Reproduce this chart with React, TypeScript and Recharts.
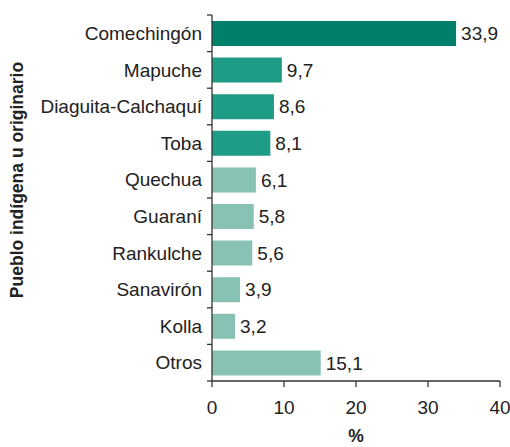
import { Bar, BarChart, Cell, LabelList, XAxis, YAxis } from "recharts";

const pueblos = [
  "Comechingón",
  "Mapuche",
  "Diaguita-Calchaquí",
  "Toba",
  "Quechua",
  "Guaraní",
  "Rankulche",
  "Sanavirón",
  "Kolla",
  "Otros",
];
const porcentajes = [33.9, 9.7, 8.6, 8.1, 6.1, 5.8, 5.6, 3.9, 3.2, 15.1];
const xTicks = [0, 10, 20, 30, 40];

const DARK = "#00806a";
const MID = "#1f9c86";
const LIGHT = "#88c2b5";
const barColors = [DARK, MID, MID, MID, LIGHT, LIGHT, LIGHT, LIGHT, LIGHT, LIGHT];

const data = pueblos.map((name, i) => ({ name, value: porcentajes[i] }));

const font = "'Liberation Sans', Arial, sans-serif";
const ink = "#222";
const axisInk = "#333";
const fs = 19;
const TICK_GAP = 10; // tickSize + tickMargin of the category axis

function YTitle() {
  return (
    <text
      x={23}
      y={180}
      transform="rotate(-90 23 180)"
      textAnchor="middle"
      fontFamily={font}
      fontSize={17.5}
      fontWeight="bold"
      fill={ink}
    >
      Pueblo indígena u originario
    </text>
  );
}

// category label + tick marks on the band boundaries
function CatTick(props: any) {
  const { x, y, payload, index, visibleTicksCount } = props;
  const half = payload.offset ?? 0;
  const ax = x + TICK_GAP;
  return (
    <g>
      <line x1={ax - 5} x2={ax} y1={y - half} y2={y - half} stroke={axisInk} strokeWidth={1.3} />
      {index === visibleTicksCount - 1 && (
        <line x1={ax - 5} x2={ax} y1={y + half} y2={y + half} stroke={axisInk} strokeWidth={1.3} />
      )}
      <text x={x} y={y} dy="0.355em" textAnchor="end" fill={ink} fontSize={fs} fontFamily={font}>
        {payload.value}
      </text>
    </g>
  );
}

export default function App() {
  return (
    <div style={{ position: "absolute", left: 0, top: 0, width: 510, height: 447, background: "#fff" }}>
      <BarChart
        width={510}
        height={447}
        data={data}
        layout="vertical"
        margin={{ top: 15, right: 10, bottom: 0, left: 0 }}
        style={{ fontFamily: font }}
      >
        <YAxis
          type="category"
          dataKey="name"
          width={212}
          axisLine={{ stroke: axisInk, strokeWidth: 1.3 }}
          tickLine={false}
          tickSize={8}
          tick={CatTick}
          interval={0}
          label={<YTitle />}
        />
        <XAxis
          type="number"
          domain={[0, 40]}
          ticks={xTicks}
          tickSize={6}
          tickMargin={14}
          height={66}
          stroke={axisInk}
          tickLine={{ stroke: axisInk, strokeWidth: 1.3 }}
          axisLine={{ stroke: axisInk, strokeWidth: 1.3 }}
          tick={{ fill: ink, fontSize: fs }}
          label={{ value: "%", position: "insideBottom", offset: 5, fill: ink, fontSize: 17.5, fontWeight: "bold" }}
        />
        <Bar dataKey="value" barSize={25} isAnimationActive={false}>
          {data.map((d, i) => (
            <Cell key={d.name} fill={barColors[i]} />
          ))}
          <LabelList
            dataKey="value"
            position="right"
            offset={5}
            fill={ink}
            fontSize={fs}
            formatter={(v: number) => String(v).replace(".", ",")}
          />
        </Bar>
      </BarChart>
    </div>
  );
}
